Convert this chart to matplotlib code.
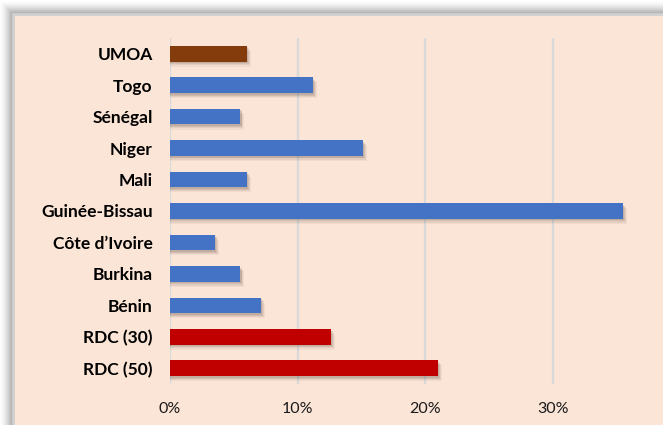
import matplotlib
matplotlib.use("Agg")
import matplotlib.pyplot as plt
from matplotlib.patches import Rectangle
import numpy as np

categories = ["UMOA", "Togo", "Sénégal", "Niger", "Mali", "Guinée-Bissau",
              "Côte d’Ivoire", "Burkina", "Bénin", "RDC (30)", "RDC (50)"]
values = [6.0, 11.2, 5.5, 15.1, 6.0, 35.45, 3.5, 5.5, 7.1, 12.6, 21.0]
bar_colors = ["#843C0C"] + ["#4472C4"] * 8 + ["#C00000"] * 2
xticks = [0, 10, 20, 30]
xticklabels = ["0%", "10%", "20%", "30%"]

W, H = 663, 425
fig = plt.figure(figsize=(W / 100, H / 100), dpi=100, facecolor="white")

def px(x, y, w, h):
    return (x / W, 1 - (y + h) / H, w / W, h / H)

# shadow around chart area
for i in range(14):
    a = 0.09 * (1 - i / 14)
    x0, y0, w0, h0 = px(13 - i, 14 - i, W + 20, H + 20)
    fig.patches.append(Rectangle((x0, y0), w0, h0, transform=fig.transFigure,
                                 facecolor="#555555", alpha=a, edgecolor="none", zorder=-3))
# chart area
x0, y0, w0, h0 = px(13, 14, W + 20, H + 20)
fig.patches.append(Rectangle((x0, y0), w0, h0, transform=fig.transFigure,
                             facecolor="#FBE5D6", edgecolor="#D0D0D0", linewidth=2.0, zorder=-2))

ax = fig.add_axes(px(170, 38, W - 170 + 1, 346))
ax.set_zorder(5)
ax.set_facecolor("none")
y = np.arange(len(categories))
xmax = (W + 1 - 170) / 12.77
ax.set_xlim(0, xmax)
ax.set_ylim(len(categories) - 0.5, -0.5)

# soft shadows
for off, a in [(0.16, 0.06), (0.12, 0.09), (0.08, 0.12), (0.05, 0.14)]:
    ax.barh(y + off, np.array(values) + off * 2.0, height=0.5, left=0.0,
            color="#5A4A40", alpha=a, linewidth=0, zorder=2)
ax.barh(y, values, height=0.5, color=bar_colors, linewidth=0, zorder=3)

ax.set_xticks(xticks)
ax.set_xticklabels(xticklabels)
ax.set_yticks(y)
ax.set_yticklabels(categories)
ax.grid(axis="x", color="#D9D9D9", linewidth=1.6, zorder=1)
ax.set_axisbelow(True)
for s in ax.spines.values():
    s.set_visible(False)
ax.tick_params(axis="both", length=0)
ax.tick_params(axis="y", pad=12.5)
ax.tick_params(axis="x", pad=13)
for lab in ax.get_yticklabels():
    lab.set_fontfamily("Lato")
    lab.set_fontweight("bold")
    lab.set_fontsize(12.5)
    lab.set_color("#000000")
for lab in ax.get_xticklabels():
    lab.set_fontfamily("Lato")
    lab.set_fontsize(11.5)
    lab.set_color("#1A1A1A")

fig.savefig("out.png", dpi=100, facecolor="white")
